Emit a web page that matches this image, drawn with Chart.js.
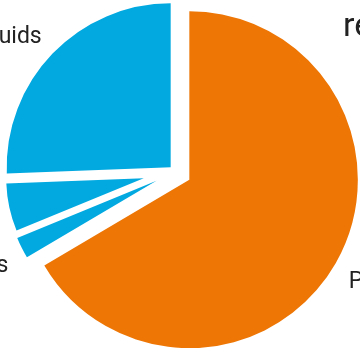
<!DOCTYPE html>
<html>
<head>
<meta charset="utf-8">
<script src="https://cdn.jsdelivr.net/npm/chart.js@4.4.1/dist/chart.umd.min.js"></script>
<style>
  html, body { margin: 0; padding: 0; background: #fff; overflow: hidden; }
  #wrap { width: 360px; height: 348px; }
</style>
</head>
<body>
<div id="wrap"><canvas id="pie" width="360" height="348"></canvas></div>
<script>
// slices run clockwise from 12 o'clock
const categories = ["Petroleum", "Other fuels", "Biofuels", "Natural gas liquids"];
const shares = [66.5, 2.3, 5.6, 25.6];
const caption = "refinery inputs";

const sliceColors = ["#ED7605", "#02A9E1", "#02A9E1", "#02A9E1"];
// how far each slice is pulled out from the centre, and its own radius (px)
const explode = [16.5, 20.7, 32, 6];
const sliceRadius = [168.5, 150.5, 137.5, 164];
const labelGap = 15;

const explodePlugin = {
  id: "explode",
  afterDatasetUpdate(chart, args) {
    args.meta.data.forEach((arc, i) => {
      const mid = (arc.startAngle + arc.endAngle) / 2;
      arc.x += explode[i] * Math.cos(mid);
      arc.y += explode[i] * Math.sin(mid);
      arc.outerRadius = sliceRadius[i];
    });
  },
  afterDatasetsDraw(chart) {
    const ctx = chart.ctx;
    const arcs = chart.getDatasetMeta(0).data;
    ctx.save();
    ctx.fillStyle = "#222";
    ctx.font = "23px Roboto";
    arcs.forEach((arc, i) => {
      const mid = (arc.startAngle + arc.endAngle) / 2;
      const r = arc.outerRadius + labelGap;
      const x = arc.x + r * Math.cos(mid);
      const y = arc.y + r * Math.sin(mid);
      ctx.textAlign = Math.cos(mid) < 0 ? "right" : "left";
      ctx.textBaseline = Math.sin(mid) < 0 ? "alphabetic" : "top";
      ctx.fillText(categories[i], x, y);
    });
    ctx.font = "34px Roboto";
    ctx.textAlign = "left";
    ctx.textBaseline = "alphabetic";
    ctx.fillText(caption, 343, 36);
    ctx.restore();
  }
};

new Chart(document.getElementById("pie"), {
  type: "pie",
  data: {
    labels: categories,
    datasets: [{
      data: shares,
      backgroundColor: sliceColors,
      borderWidth: 0
    }]
  },
  options: {
    responsive: false,
    animation: false,
    events: [],
    layout: { padding: { right: 10, bottom: 5 } },
    plugins: {
      legend: { display: false },
      tooltip: { enabled: false }
    }
  },
  plugins: [explodePlugin]
});
</script>
</body>
</html>
